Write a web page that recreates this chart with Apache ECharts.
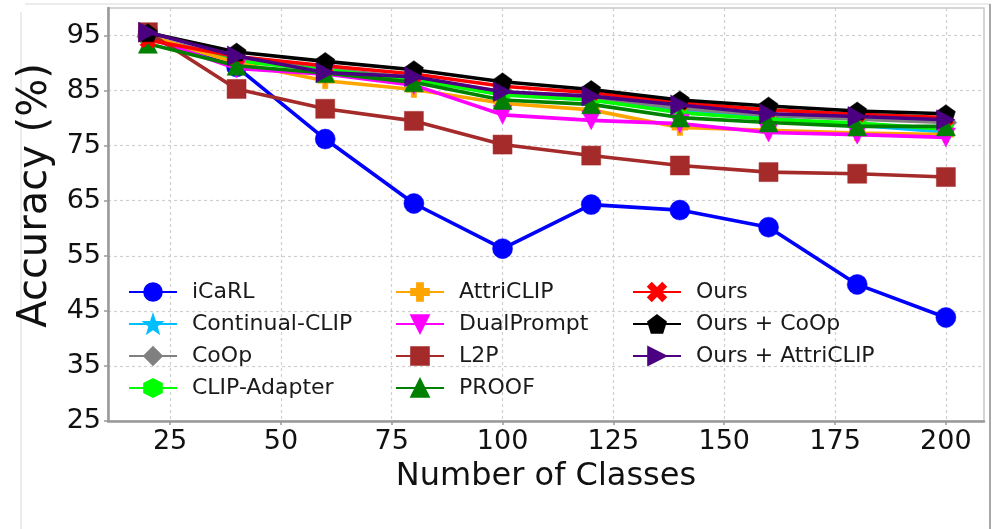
<!DOCTYPE html>
<html>
<head>
<meta charset="utf-8">
<script src="https://cdn.jsdelivr.net/npm/echarts@6/dist/echarts.min.js"></script>
<style>
  html, body { margin: 0; padding: 0; background: #ffffff; }
  #chart { width: 1000px; height: 529px; }
</style>
</head>
<body>
<div id="chart"></div>
<script>
// Number of classes seen at each incremental step
const classes = [20, 40, 60, 80, 100, 120, 140, 160, 180, 200];

// Accuracy (%) per method
const icarl         = [95.0, 89.3, 76.2, 64.5, 56.3, 64.3, 63.3, 60.2, 49.8, 43.8];
const continualClip = [94.5, 90.5, 88.7, 87.0, 84.3, 83.3, 81.3, 80.0, 78.7, 77.5];
const coop          = [94.8, 90.8, 89.0, 87.3, 84.8, 83.8, 81.8, 80.5, 79.8, 79.2];
const clipAdapter   = [94.5, 90.3, 88.8, 87.0, 84.2, 83.3, 81.0, 79.8, 79.1, 78.0];
const attriClip     = [95.0, 90.0, 86.8, 85.2, 82.7, 81.5, 78.3, 77.8, 77.3, 77.0];
const dualPrompt    = [94.6, 89.0, 88.0, 86.0, 80.6, 79.6, 79.0, 77.4, 77.0, 76.5];
const l2p           = [95.6, 85.3, 81.7, 79.5, 75.2, 73.2, 71.4, 70.2, 69.9, 69.3];
const proof         = [93.5, 89.5, 88.2, 86.5, 83.3, 82.5, 80.1, 79.2, 78.5, 78.5];
const ours          = [94.2, 91.2, 89.5, 88.0, 85.8, 84.6, 82.8, 81.5, 80.7, 80.1];
const oursCoop      = [95.5, 92.0, 90.3, 88.8, 86.6, 85.2, 83.3, 82.2, 81.3, 80.8];
const oursAttriClip = [95.6, 91.3, 88.3, 87.5, 84.8, 84.0, 82.4, 80.8, 80.3, 79.7];

// Axis tick values
const xTicks = [25, 50, 75, 100, 125, 150, 175, 200];
const yTicks = [25, 35, 45, 55, 65, 75, 85, 95];

// Marker shapes
const HEXAGON  = 'path://M0,-10 L8.66,-5 L8.66,5 L0,10 L-8.66,5 L-8.66,-5 Z';
const PENTAGON = 'path://M0,-10 L9.51,-3.09 L5.88,8.09 L-5.88,8.09 L-9.51,-3.09 Z';
const STAR     = 'path://M0,-10 L2.35,-3.24 L9.51,-3.09 L3.8,1.24 L5.88,8.09 L0,4 L-5.88,8.09 L-3.8,1.24 L-9.51,-3.09 L-2.35,-3.24 Z';
const PLUS     = 'path://M-3.3,-10 L3.3,-10 L3.3,-3.3 L10,-3.3 L10,3.3 L3.3,3.3 L3.3,10 L-3.3,10 L-3.3,3.3 L-10,3.3 L-10,-3.3 L-3.3,-3.3 Z';
const XMARK    = 'path://M-10,-6 L-6,-10 L0,-4 L6,-10 L10,-6 L4,0 L10,6 L6,10 L0,4 L-6,10 L-10,6 L-4,0 Z';
const TRI_RIGHT = 'path://M-8.5,-10 L10,0 L-8.5,10 Z';

const methods = [
  { name: 'iCaRL',             values: icarl,         color: '#0000ff', symbol: 'circle',   size: 20 },
  { name: 'Continual-CLIP',    values: continualClip, color: '#00bfff', symbol: STAR,       size: 15 },
  { name: 'CoOp',              values: coop,          color: '#808080', symbol: 'diamond',  size: 22 },
  { name: 'CLIP-Adapter',      values: clipAdapter,   color: '#00ff00', symbol: HEXAGON,    size: 17 },
  { name: 'AttriCLIP',         values: attriClip,     color: '#ffa500', symbol: PLUS,       size: 16 },
  { name: 'DualPrompt',        values: dualPrompt,    color: '#ff00ff', symbol: 'triangle', size: 19, rotate: 180 },
  { name: 'L2P',               values: l2p,           color: '#a52a2a', symbol: 'rect',     size: 19 },
  { name: 'PROOF',             values: proof,         color: '#008000', symbol: 'triangle', size: 19 },
  { name: 'Ours',              values: ours,          color: '#ff0000', symbol: XMARK,      size: 16 },
  { name: 'Ours + CoOp',       values: oursCoop,      color: '#000000', symbol: PENTAGON,   size: 19 },
  { name: 'Ours + AttriCLIP',  values: oursAttriClip, color: '#4b0082', symbol: TRI_RIGHT,  size: 20 }
];

const series = methods.map((m, i) => ({
  name: m.name,
  type: 'line',
  data: classes.map((c, k) => [c, m.values[k]]),
  symbol: m.symbol,
  symbolSize: m.size,
  symbolRotate: m.rotate || 0,
  symbolKeepAspect: true,
  showAllSymbol: true,
  z: 2 + i,
  lineStyle: { color: m.color, width: 3.6 },
  itemStyle: { color: m.color, borderColor: m.color, borderWidth: 0.5, opacity: 1 },
  emphasis: { disabled: true },
  animation: false
}));

const legendText = { fontFamily: 'DejaVu Sans', fontSize: 22, color: '#1a1a1a', padding: [0, 0, 0, 10] };
function legendColumn(names, left) {
  return {
    orient: 'vertical',
    left: left,
    top: 276,
    itemWidth: 48,
    itemHeight: 22,
    itemGap: 10,
    textStyle: legendText,
    data: names,
    selectedMode: false
  };
}

const chart = echarts.init(document.getElementById('chart'), null, { renderer: 'canvas' });
chart.setOption({
  backgroundColor: '#ffffff',
  animation: false,
  textStyle: { fontFamily: 'DejaVu Sans' },
  grid: {
    left: 108, right: 16, top: 8, bottom: 108,
    show: true, borderColor: '#c8c8c8', borderWidth: 1.5, backgroundColor: 'transparent'
  },
  legend: [
    legendColumn(['iCaRL', 'Continual-CLIP', 'CoOp', 'CLIP-Adapter'], 123),
    legendColumn(['AttriCLIP', 'DualPrompt', 'L2P', 'PROOF'], 390),
    legendColumn(['Ours', 'Ours + CoOp', 'Ours + AttriCLIP'], 627)
  ],
  xAxis: {
    type: 'value',
    min: 11,
    max: 208.6,
    name: 'Number of Classes',
    nameLocation: 'middle',
    nameGap: 40,
    nameTextStyle: { fontFamily: 'DejaVu Sans', fontSize: 32, color: '#111' },
    axisLine: { show: true, onZero: false, lineStyle: { color: '#999', width: 2.5 } },
    axisTick: { show: true, length: 4, customValues: xTicks, lineStyle: { color: '#999', width: 1.5 } },
    axisLabel: { customValues: xTicks, fontFamily: 'DejaVu Sans', fontSize: 27, color: '#111', margin: 7 },
    splitLine: { show: true, lineStyle: { color: '#d0d0d0', width: 1.2, type: [3, 3] } }
  },
  yAxis: {
    type: 'value',
    min: 25,
    max: 100,
    name: 'Accuracy (%)',
    nameLocation: 'middle',
    nameGap: 50,
    nameTextStyle: { fontFamily: 'DejaVu Sans', fontSize: 40, color: '#111', padding: [0, 0, 0, 38] },
    axisLine: { show: true, lineStyle: { color: '#999', width: 2.5 } },
    axisTick: { show: true, length: 4, customValues: yTicks, lineStyle: { color: '#999', width: 1.5 } },
    axisLabel: { customValues: yTicks, fontFamily: 'DejaVu Sans', fontSize: 27, color: '#111', margin: 7 },
    splitLine: { show: true, lineStyle: { color: '#d0d0d0', width: 1.2, type: [3, 3] } }
  },
  graphic: [
    { type: 'line', silent: true, shape: { x1: 21, y1: 12, x2: 21, y2: 529 }, style: { stroke: '#e6e6e6', lineWidth: 1.5 } },
    { type: 'line', silent: true, shape: { x1: 25, y1: 4, x2: 990, y2: 4 }, style: { stroke: '#e6e6e6', lineWidth: 1.5 } },
    { type: 'line', silent: true, shape: { x1: 990, y1: 4, x2: 990, y2: 529 }, style: { stroke: '#a8a8a8', lineWidth: 2 } }
  ],
  series: series
});
</script>
</body>
</html>
